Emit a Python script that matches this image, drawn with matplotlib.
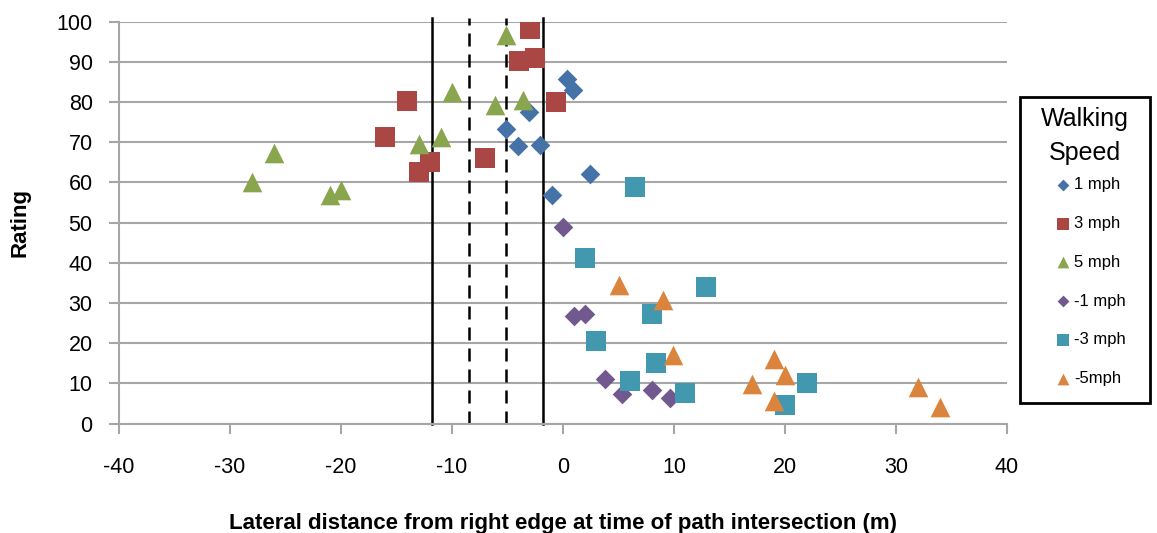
import matplotlib.pyplot as plt
from matplotlib.patches import Rectangle

# lateral distance (m) and rating per walking speed
x_1mph = [0.4, 0.9, -3.1, -5.1, -4.1, -2.1, 2.4, -1.0]
y_1mph = [85.7, 83.0, 77.6, 73.3, 69.2, 69.3, 62.0, 56.9]

x_3mph = [-3.0, -4.0, -2.5, -14.1, -0.6, -16.0, -12.0, -13.0, -7.0]
y_3mph = [98.1, 90.2, 91.0, 80.3, 79.9, 71.4, 65.2, 62.7, 66.2]

x_5mph = [-5.1, -10.0, -6.1, -3.6, -11.0, -13.0, -26.0, -28.0, -20.0, -21.0]
y_5mph = [96.6, 82.6, 79.2, 80.6, 71.4, 69.6, 67.4, 60.1, 58.2, 56.9]

x_m1mph = [0.0, 1.0, 2.0, 3.8, 5.3, 8.0, 9.6]
y_m1mph = [49.0, 26.8, 27.2, 11.2, 7.4, 8.4, 6.5]

x_m3mph = [6.5, 2.0, 12.9, 8.0, 3.0, 8.4, 6.0, 11.0, 20.0, 22.0]
y_m3mph = [58.8, 41.3, 33.9, 27.3, 20.6, 15.2, 10.6, 7.6, 4.7, 10.0]

x_m5mph = [5.0, 9.0, 9.9, 19.0, 20.0, 17.0, 19.0, 32.0, 34.0]
y_m5mph = [34.4, 30.7, 17.0, 16.0, 12.0, 9.9, 5.6, 9.1, 4.1]

solid_lines = [-11.8, -1.8]
dashed_lines = [-8.5, -5.1]

plt.rcParams['font.family'] = ['Liberation Sans', 'DejaVu Sans']
plt.rcParams['axes.unicode_minus'] = False

fig = plt.figure(figsize=(11.57, 5.33), dpi=100)
ax = fig.add_axes([0.1029, 0.2051, 0.7675, 0.7542])

for v in solid_lines:
    ax.axvline(v, ymax=1.01, color='black', lw=1.8, zorder=2, clip_on=False)
for v in dashed_lines:
    ax.axvline(v, ymax=1.01, color='black', lw=1.8, ls=(0, (5.2, 3.2)), zorder=2, clip_on=False)

ax.scatter(x_1mph, y_1mph, marker='D', s=100, color='#4572A7', label='1 mph', zorder=3, linewidths=0)
ax.scatter(x_3mph, y_3mph, marker='s', s=200, color='#AA4643', label='3 mph', zorder=3, linewidths=0)
ax.scatter(x_5mph, y_5mph, marker='^', s=200, color='#89A54E', label='5 mph', zorder=3, linewidths=0)
ax.scatter(x_m1mph, y_m1mph, marker='D', s=100, color='#71588F', label='-1 mph', zorder=3, linewidths=0)
ax.scatter(x_m3mph, y_m3mph, marker='s', s=200, color='#4198AF', label='-3 mph', zorder=3, linewidths=0)
ax.scatter(x_m5mph, y_m5mph, marker='^', s=200, color='#DB843D', label='-5mph', zorder=3, linewidths=0)

ax.set_xlim(-40, 40)
ax.set_ylim(0, 100)
ax.set_xticks(range(-40, 41, 10))
ax.set_yticks(range(0, 101, 10))
ax.yaxis.grid(True, color='#a6a6a6', lw=1.5)
ax.set_axisbelow(True)
for side in ['top', 'right']:
    ax.spines[side].set_visible(False)
for side in ['left', 'bottom']:
    ax.spines[side].set_color('#a6a6a6')
    ax.spines[side].set_linewidth(1.5)
ax.tick_params(axis='both', colors='#a6a6a6', length=7, width=1.5, labelsize=15.5, labelcolor='black')
ax.tick_params(axis='x', pad=17)
ax.tick_params(axis='y', pad=12)

ax.set_xlabel('Lateral distance from right edge at time of path intersection (m)',
              fontsize=16, fontweight='bold', labelpad=25)
ax.set_ylabel('Rating', fontsize=16, fontweight='bold', labelpad=19)

# legend frame and title drawn separately so everything sits centred in the box
box = Rectangle((1.0147, 0.0515), 0.1464, 0.7612, transform=ax.transAxes,
                fill=False, edgecolor='black', lw=2, clip_on=False)
ax.add_patch(box)
ax.text(1.0879, 0.716, 'Walking\nSpeed', transform=ax.transAxes, ha='center', va='center',
        fontsize=18, linespacing=1.5)

leg = ax.legend(loc='upper center', bbox_to_anchor=(1.093, 0.6135), frameon=False,
                fontsize=12, labelspacing=1.43, handletextpad=0.05,
                handlelength=1.2, markerscale=0.6, borderpad=0, borderaxespad=0)

fig.savefig('out.png', dpi=100)
